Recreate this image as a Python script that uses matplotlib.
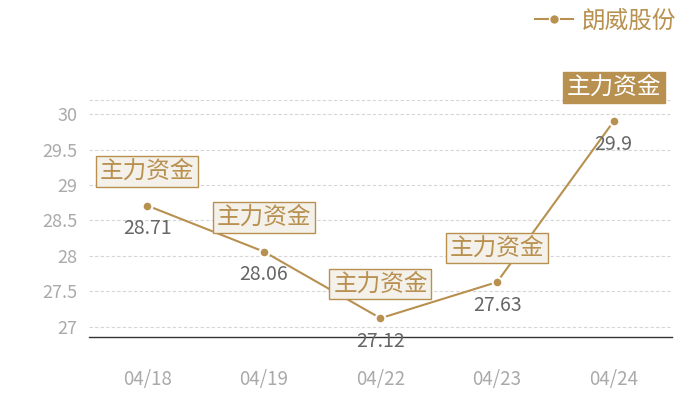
import matplotlib
matplotlib.use('Agg')
import matplotlib.pyplot as plt
from matplotlib.lines import Line2D

plt.rcParams['font.family'] = ['Noto Sans CJK SC', 'DejaVu Sans']

# data
dates = ["04/18", "04/19", "04/22", "04/23", "04/24"]
prices = [28.71, 28.06, 27.12, 27.63, 29.9]
tags = ["主力资金", "主力资金", "主力资金", "主力资金", "主力资金"]
highlight = [False, False, False, False, True]
series_name = "朗威股份"
y_ticks = [27, 27.5, 28, 28.5, 29, 29.5, 30]

GOLD = "#b8904f"
PALE = "#f4f0ea"

fig = plt.figure(figsize=(7, 4), dpi=100)
ax = fig.add_axes([0.127, 0.1575, 0.833, 0.5925])

x = list(range(len(dates)))
ax.plot(x, prices, color=GOLD, lw=1.5, marker='o', ms=7,
        markeredgecolor='white', markeredgewidth=1.5, zorder=3)

ax.set_xlim(-0.5, len(dates) - 0.5)
ax.set_ylim(26.855, 30.2)
ax.set_yticks(y_ticks)
ax.set_yticklabels([f"{t:g}" for t in y_ticks])
ax.set_xticks(x)
ax.set_xticklabels(dates)
ax.grid(axis='y', color='#d6d6d6', ls=(0, (3, 2)), lw=0.8)
ax.axhline(30.2, color='#d6d6d6', ls=(0, (3, 2)), lw=0.8)
ax.set_axisbelow(True)

for s in ['top', 'right', 'left']:
    ax.spines[s].set_visible(False)
ax.spines['bottom'].set_color('#333333')
ax.spines['bottom'].set_linewidth(1)
ax.tick_params(length=0, colors='#aaaaaa', labelsize=13)
ax.tick_params(axis='x', pad=23, labelsize=13.5)
ax.tick_params(axis='y', pad=8)

for i, (v, t, h) in enumerate(zip(prices, tags, highlight)):
    ax.annotate(f"{v:g}", xy=(i, v), xytext=(0, -16.5), textcoords='offset points',
                ha='center', va='center', fontsize=14, color='#666666', zorder=4)
    if h:
        box = dict(boxstyle='square,pad=0.16', fc=GOLD, ec=GOLD, lw=1)
        tc = 'white'
    else:
        box = dict(boxstyle='square,pad=0.16', fc=PALE, ec=GOLD, lw=1)
        tc = GOLD
    ax.annotate(t, xy=(i, v), xytext=(0, 24.5), textcoords='offset points',
                ha='center', va='center', fontsize=17, color=tc, bbox=box, zorder=5)

handle = Line2D([], [], color=GOLD, lw=1.5, marker='o', ms=7,
                markeredgecolor='white', markeredgewidth=1)
leg = fig.legend([handle], [series_name], loc='upper right', bbox_to_anchor=(0.997, 1.03),
                 frameon=False, fontsize=17, handlelength=1.6, handletextpad=0.4)
for txt in leg.get_texts():
    txt.set_color(GOLD)

fig.savefig("out.png", dpi=100)
